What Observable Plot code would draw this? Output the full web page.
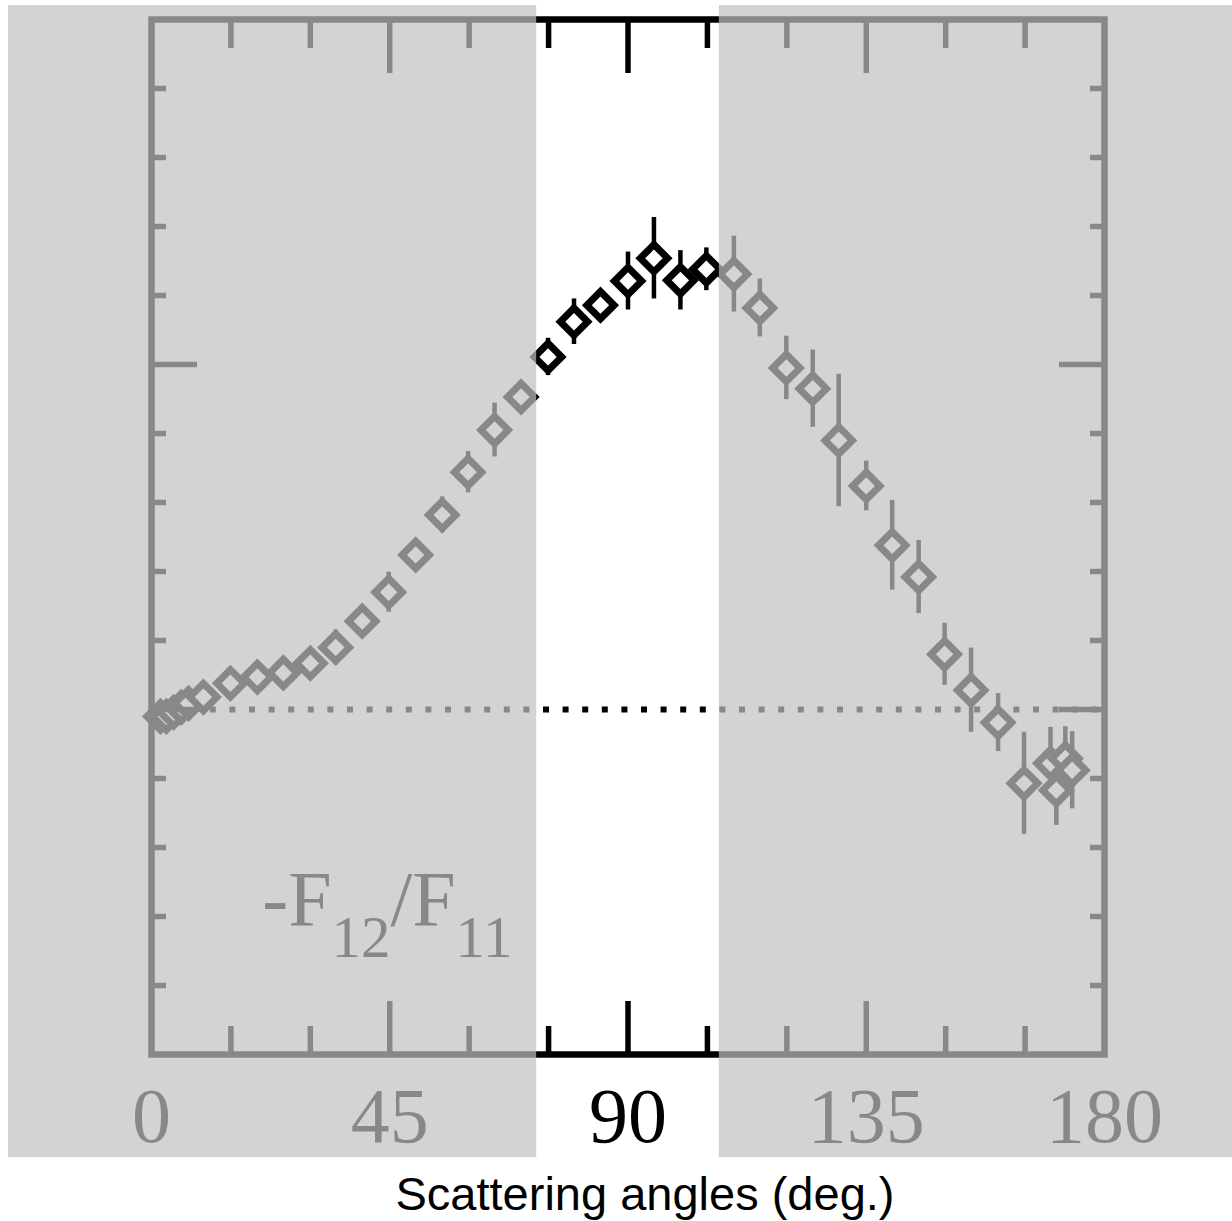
<!DOCTYPE html>
<html>
<head>
<meta charset="utf-8">
<script src="https://cdn.jsdelivr.net/npm/d3@7"></script>
<script src="https://cdn.jsdelivr.net/npm/@observablehq/plot@0.6"></script>
<style>
  html, body { margin: 0; padding: 0; background: #fff; }
  #chart { position: absolute; left: 8px; top: 5px; }
  #xlabel {
    position: absolute; top: 1170px; left: 645px; transform: translateX(-50%);
    font-family: "Liberation Sans", Arial, sans-serif; font-size: 47px; line-height: 1;
    white-space: nowrap; color: #000;
  }
</style>
</head>
<body>
<div id="chart"></div>
<div id="xlabel">Scattering angles (deg.)</div>
<script>
// Scattering angle (deg.)
const angles = [1.7, 2.8, 4.2, 5.6, 7.0, 9.8, 14.9, 20.0, 24.9, 30.0, 34.8, 39.8, 44.8, 49.9,
  54.9, 59.8, 64.8, 69.8, 74.9, 79.8, 84.8, 90.0, 94.9, 99.9, 104.8, 110.0, 114.9, 119.9,
  124.9, 129.8, 135.0, 139.9, 144.9, 149.8, 154.8, 159.9, 164.8, 169.8, 170.9, 172.6, 173.9];
// -F12/F11
const values = [-0.010, -0.010, -0.004, 0.003, 0.009, 0.018, 0.038, 0.047, 0.053, 0.067, 0.090,
  0.128, 0.170, 0.224, 0.282, 0.344, 0.405, 0.453, 0.511, 0.562, 0.586, 0.621, 0.654, 0.622,
  0.638, 0.631, 0.582, 0.495, 0.465, 0.390, 0.324, 0.238, 0.192, 0.080, 0.028, -0.019, -0.107,
  -0.078, -0.117, -0.071, -0.088];
// error bar half-lengths
const errors = [0.015, 0.015, 0.015, 0.015, 0.015, 0.015, 0.015, 0.015, 0.015, 0.015, 0.025,
  0.015, 0.029, 0.015, 0.026, 0.030, 0.039, 0.015, 0.027, 0.033, 0.015, 0.042, 0.059, 0.043,
  0.031, 0.055, 0.042, 0.046, 0.056, 0.096, 0.036, 0.065, 0.053, 0.045, 0.061, 0.042, 0.074,
  0.052, 0.051, 0.046, 0.056];

const xTickLabels = [0, 45, 90, 135, 180];
const xMajorTicks = [45, 90, 135];
const xMinorTicks = [15, 30, 60, 75, 105, 120, 150, 165];
const yMajorTicks = [0, 0.5];
const yMinorTicks = [-0.4, -0.3, -0.2, -0.1, 0.1, 0.2, 0.3, 0.4, 0.6, 0.7, 0.8, 0.9];
const highlightBand = [72.75, 107.25];
const seriesLabel = [{t: "-F", sub: false}, {t: "12", sub: true}, {t: "/F", sub: false}, {t: "11", sub: true}];

const data = angles.map((a, i) => ({angle: a, value: values[i], err: errors[i]}));

const W = 1224, H = 1152;
const mL = 143, mR = 128, mT = 14, mB = 103;
const veil = {fill: "#c1c1c1", fillOpacity: 0.706};
const tickStyle = {fill: "none", label: null, stroke: "black", strokeWidth: 5.5};

const plot = Plot.plot({
  width: W, height: H,
  marginLeft: mL, marginRight: mR, marginTop: mT, marginBottom: mB,
  style: {background: "white", overflow: "visible"},
  x: {domain: [0, 180]},
  y: {domain: [-0.5, 1]},
  marks: [
    Plot.ruleY([0], {stroke: "black", strokeWidth: 6, strokeDasharray: "6,13.6"}),
    Plot.ruleX(data, {x: "angle", y1: d => d.value - d.err, y2: d => d.value + d.err, stroke: "black", strokeWidth: 4.5}),
    Plot.dot(data, {x: "angle", y: "value", symbol: "diamond2", r: 12.3, stroke: "black", strokeWidth: 7, fill: "white"}),
    Plot.frame({stroke: "black", strokeWidth: 6.5}),
    Plot.axisX(xMinorTicks, {anchor: "top", tickSize: -28, ...tickStyle}),
    Plot.axisX(xMinorTicks, {anchor: "bottom", tickSize: -28, ...tickStyle}),
    Plot.axisX(xMajorTicks, {anchor: "top", tickSize: -53, ...tickStyle}),
    Plot.axisX(xMajorTicks, {anchor: "bottom", tickSize: -53, ...tickStyle}),
    Plot.axisY(yMinorTicks, {anchor: "left", tickSize: -15, ...tickStyle}),
    Plot.axisY(yMinorTicks, {anchor: "right", tickSize: -15, ...tickStyle}),
    Plot.axisY(yMajorTicks, {anchor: "left", tickSize: -46, ...tickStyle}),
    Plot.axisY(yMajorTicks, {anchor: "right", tickSize: -46, ...tickStyle}),
    Plot.axisX(xTickLabels, {anchor: "bottom", tickSize: 0, tickPadding: 32, label: null,
      fill: "black", fontSize: 78, fontFamily: "Liberation Serif, Times New Roman, serif"}),
    Plot.rect([0], {x1: 0, x2: highlightBand[0], insetLeft: -mL, insetTop: -mT, insetBottom: -mB, ...veil}),
    Plot.rect([0], {x1: highlightBand[1], x2: 180, insetRight: -mR, insetTop: -mT, insetBottom: -mB, ...veil})
  ]
});

// series annotation "-F12/F11" (gray as under the veil)
const xs = plot.scale("x"), ys = plot.scale("y");
const svg = d3.select(plot);
const lab = svg.append("text")
  .attr("x", xs.apply(21.0))
  .attr("y", ys.apply(-0.3126))
  .attr("text-anchor", "start")
  .attr("fill", "#888")
  .attr("font-family", "Liberation Serif, Times New Roman, serif")
  .attr("font-size", 78);
let prevSub = false;
for (const part of seriesLabel) {
  const ts = lab.append("tspan").text(part.t);
  if (part.sub) ts.attr("font-size", 59);
  if (part.sub !== prevSub) ts.attr("dy", part.sub ? 32 : -32);
  prevSub = part.sub;
}

document.getElementById("chart").appendChild(plot);
</script>
</body>
</html>
